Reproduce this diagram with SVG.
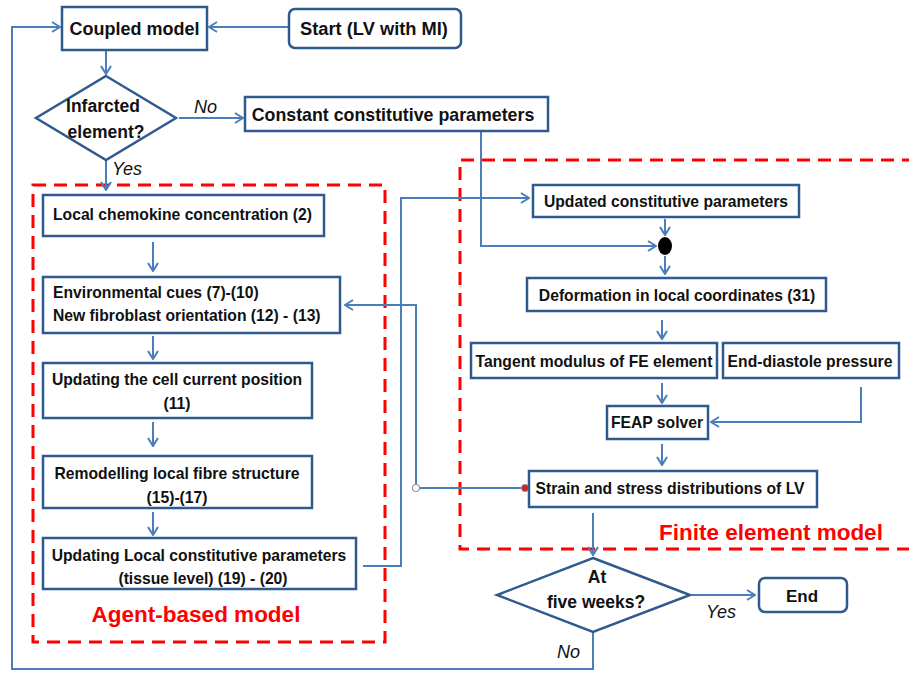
<svg xmlns="http://www.w3.org/2000/svg" width="909" height="674" viewBox="0 0 909 674">
<defs>
<marker id="arr" markerWidth="12" markerHeight="12" viewBox="0 0 12 12" refX="11" refY="6" orient="auto" markerUnits="userSpaceOnUse">
<path d="M3,1 L11,6 L3,11" fill="none" stroke="#4a7ebb" stroke-width="2"/>
</marker>
<style>
.box{fill:#fff;stroke:#2f5a8f;stroke-width:2.5}
.con{fill:none;stroke:#4a7ebb;stroke-width:2}
.grp{fill:none;stroke:#ff0000;stroke-width:3;stroke-dasharray:13 8}
.t{font-family:"Liberation Sans",Arial,sans-serif;font-weight:bold;font-size:15.7px;fill:#111}
.tc{text-anchor:middle}
.lbl{font-family:"Liberation Sans",Arial,sans-serif;font-style:italic;font-size:18px;fill:#111}
.red{font-family:"Liberation Sans",Arial,sans-serif;font-weight:bold;font-size:22.5px;fill:#ff0000}
</style>
</defs>
<rect width="909" height="674" fill="#fff"/>

<g id="groups">
<rect id="agent-based" class="grp" x="33" y="185" width="352" height="457"/>
<path id="finite-element" class="grp" d="M915,160 H460 V549 H915"/>
<text class="red tc" x="196" y="622">Agent-based model</text>
<text class="red tc" x="771" y="540">Finite element model</text>
</g>

<g id="connectors">
<path class="con" d="M289,27 H209" marker-end="url(#arr)"/>
<path class="con" d="M106,51 V74" marker-end="url(#arr)"/>
<path class="con" d="M179,118 H243" marker-end="url(#arr)"/>
<path class="con" d="M106,161 V190" marker-end="url(#arr)"/>
<path class="con" d="M153,242 V271" marker-end="url(#arr)"/>
<path class="con" d="M153,336 V359" marker-end="url(#arr)"/>
<path class="con" d="M153,422 V446" marker-end="url(#arr)"/>
<path class="con" d="M153,512 V535" marker-end="url(#arr)"/>
<path class="con" d="M363,566 H401 V198 H529" marker-end="url(#arr)"/>
<path class="con" d="M481,131 V246 H656" marker-end="url(#arr)"/>
<path class="con" d="M665,219 V235" marker-end="url(#arr)"/>
<path class="con" d="M665,256 V274" marker-end="url(#arr)"/>
<path class="con" d="M662,320 V339" marker-end="url(#arr)"/>
<path class="con" d="M662,383 V403" marker-end="url(#arr)"/>
<path class="con" d="M861,387 V422 H711" marker-end="url(#arr)"/>
<path class="con" d="M662,444 V465" marker-end="url(#arr)"/>
<path class="con" d="M525,488 H416 V305 H345" marker-end="url(#arr)"/>
<path class="con" d="M593,513 V555" marker-end="url(#arr)"/>
<path class="con" d="M692,595 H755" marker-end="url(#arr)"/>
<path class="con" d="M593,633 V669 H12 V27 H60" marker-end="url(#arr)"/>
<circle cx="416" cy="488" r="3.5" fill="#fff" stroke="#999" stroke-width="1.2"/>
<circle cx="525" cy="488" r="3.5" fill="#d02020" stroke="#999" stroke-width="1.2"/>
<text class="lbl" x="194" y="113">No</text>
<text class="lbl" x="112" y="175">Yes</text>
<text class="lbl" x="706" y="618">Yes</text>
<text class="lbl" x="557" y="658">No</text>
</g>

<g id="coupled-model">
<rect class="box" x="62" y="7" width="145" height="43"/>
<text class="t tc" x="134.5" y="35" style="font-size:18px">Coupled model</text>
</g>
<g id="start">
<rect class="box" x="289" y="9" width="172" height="39" rx="6"/>
<text class="t tc" x="374" y="35" style="font-size:18.3px">Start (LV with MI)</text>
</g>
<g id="infarcted">
<polygon class="box" points="106,76 176,118 106,160 36,118"/>
<text class="t tc" x="103" y="112" style="font-size:17.5px">Infarcted</text>
<text class="t tc" x="106" y="138" style="font-size:17.5px">element?</text>
</g>
<g id="constant-params">
<rect class="box" x="245" y="97" width="303" height="34"/>
<text class="t tc" x="393" y="121" style="font-size:17.8px">Constant constitutive parameters</text>
</g>
<g id="chemokine">
<rect class="box" x="43" y="195" width="281" height="41"/>
<text class="t" x="53" y="220">Local chemokine concentration (2)</text>
</g>
<g id="env-cues">
<rect class="box" x="43" y="277" width="297" height="56"/>
<text class="t" x="53" y="298">Environmental cues (7)-(10)</text>
<text class="t" x="53" y="321">New fibroblast orientation (12) - (13)</text>
</g>
<g id="cell-position">
<rect class="box" x="43" y="363" width="269" height="55"/>
<text class="t tc" x="177" y="385">Updating the cell current position</text>
<text class="t tc" x="177" y="409">(11)</text>
</g>
<g id="remodelling">
<rect class="box" x="43" y="456" width="269" height="52"/>
<text class="t tc" x="177" y="479">Remodelling local fibre structure</text>
<text class="t tc" x="177" y="503">(15)-(17)</text>
</g>
<g id="local-params">
<rect class="box" x="43" y="538" width="313" height="51"/>
<text class="t tc" x="199" y="561">Updating Local constitutive parameters</text>
<text class="t tc" x="203" y="584">(tissue level) (19) - (20)</text>
</g>
<g id="updated-params">
<rect class="box" x="533" y="185" width="266" height="32"/>
<text class="t tc" x="666" y="207">Updated constitutive parameters</text>
</g>
<g id="junction">
<ellipse cx="665" cy="246" rx="7" ry="9" fill="#000"/>
</g>
<g id="deformation">
<rect class="box" x="527" y="278" width="299" height="33"/>
<text class="t tc" x="677" y="301">Deformation in local coordinates (31)</text>
</g>
<g id="tangent">
<rect class="box" x="471" y="343" width="246" height="35"/>
<text class="t tc" x="594" y="367">Tangent modulus of FE element</text>
</g>
<g id="end-diastole">
<rect class="box" x="723" y="343" width="176" height="35"/>
<text class="t tc" x="810" y="367">End-diastole pressure</text>
</g>
<g id="feap">
<rect class="box" x="607" y="406" width="101" height="33"/>
<text class="t tc" x="657" y="428">FEAP solver</text>
</g>
<g id="strain">
<rect class="box" x="529" y="471" width="288" height="36"/>
<text class="t tc" x="670" y="494">Strain and stress distributions of LV</text>
</g>
<g id="five-weeks">
<polygon class="box" points="593,558 690,595 593,632 497,595"/>
<text class="t tc" x="597" y="583" style="font-size:17.5px">At</text>
<text class="t tc" x="596" y="608" style="font-size:17.5px">five weeks?</text>
</g>
<g id="end">
<rect class="box" x="759" y="578" width="88" height="34" rx="6"/>
<text class="t tc" x="802" y="602" style="font-size:17px">End</text>
</g>
</svg>
